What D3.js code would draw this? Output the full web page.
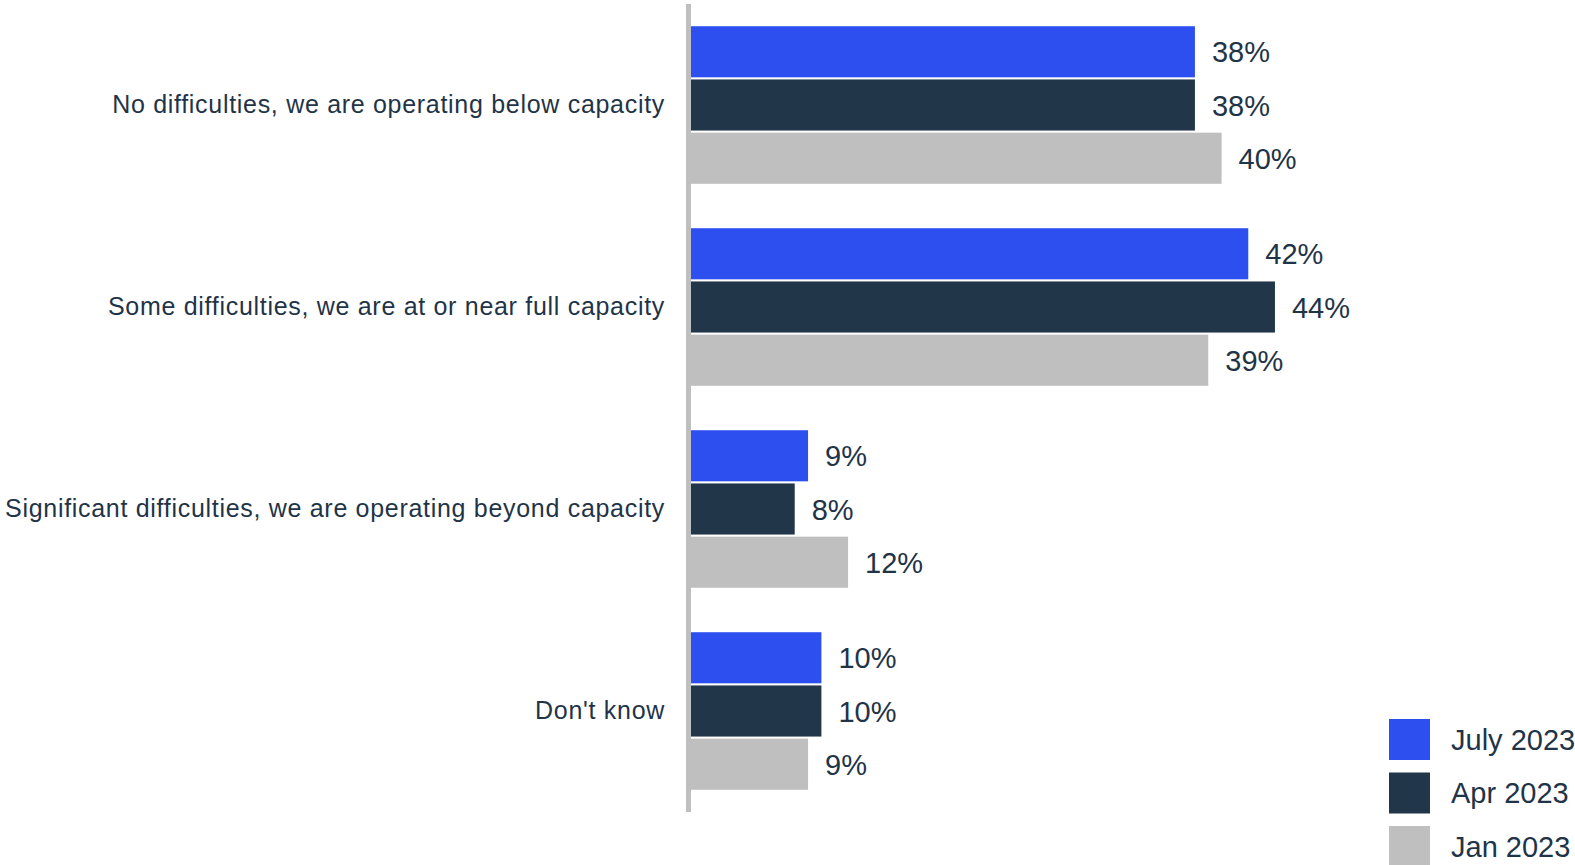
<!DOCTYPE html>
<html>
<head>
<meta charset="utf-8">
<script src="https://cdn.jsdelivr.net/npm/d3@7"></script>
<style>
  html, body { margin: 0; padding: 0; background: #fff; overflow: hidden; }
  svg { display: block; font-family: "Liberation Sans", Arial, sans-serif; }
</style>
</head>
<body>
<svg id="chart" width="1575" height="865"></svg>
<script>
// Survey responses: capacity difficulties, by wave
const categories = [
  "No difficulties, we are operating below capacity",
  "Some difficulties, we are at or near full capacity",
  "Significant difficulties, we are operating beyond capacity",
  "Don't know"
];
const seriesNames = ["July 2023", "Apr 2023", "Jan 2023"];
const july2023 = [38, 42, 9, 10];
const apr2023  = [38, 44, 8, 10];
const jan2023  = [40, 39, 12, 9];
const seriesColors = ["#2d4ff0", "#213648", "#bfbfbf"];

const seriesValues = [july2023, apr2023, jan2023];
const rows = categories.map((c, i) => ({
  category: c,
  values: seriesNames.map((s, j) => ({ series: s, value: seriesValues[j][i] }))
}));

const svg = d3.select("#chart");
const textColor = "#1f3447";

const x = d3.scaleLinear().domain([0, 50]).range([688, 1355]);
const y0 = d3.scaleBand().domain(categories).range([4, 812])
  .paddingInner(0.22).paddingOuter(0.11);
const y1 = d3.scaleBand().domain(seriesNames).range([0, y0.bandwidth()])
  .paddingInner(0.04);
const color = d3.scaleOrdinal().domain(seriesNames).range(seriesColors);
const fmt = v => d3.format(".0f")(v) + "%";

// Bars
const groups = svg.append("g").selectAll("g")
  .data(rows).join("g")
  .attr("transform", d => `translate(0,${y0(d.category)})`);

groups.selectAll("rect")
  .data(d => d.values).join("rect")
  .attr("x", x(0))
  .attr("y", d => y1(d.series))
  .attr("width", d => x(d.value) - x(0))
  .attr("height", y1.bandwidth())
  .attr("fill", d => color(d.series));

// Value labels
groups.selectAll("text")
  .data(d => d.values).join("text")
  .attr("x", d => x(d.value) + 17)
  .attr("y", d => y1(d.series) + y1.bandwidth() / 2)
  .attr("dy", "0.37em")
  .attr("font-size", 29)
  .attr("fill", textColor)
  .text(d => fmt(d.value));

// Category axis (left)
const yAxis = d3.axisLeft(y0).tickSize(0).tickPadding(21);
const axisG = svg.append("g")
  .attr("transform", `translate(${x(0) - 2},0)`)
  .call(yAxis);
axisG.select(".domain").remove();
axisG.selectAll("text")
  .attr("font-size", 25)
  .attr("letter-spacing", "0.7px")
  .attr("font-family", "Liberation Sans, Arial, sans-serif")
  .attr("fill", textColor)
  .attr("dy", "0.32em");

// Vertical baseline
svg.append("line")
  .attr("x1", x(0) + 0.5).attr("x2", x(0) + 0.5)
  .attr("y1", y0.range()[0]).attr("y2", y0.range()[1])
  .attr("stroke", "#bfbfbf")
  .attr("stroke-width", 5);

// Legend
const legend = svg.append("g").attr("transform", "translate(1389,719)");
const li = legend.selectAll("g").data(seriesNames).join("g")
  .attr("transform", (d, i) => `translate(0,${i * 53.5})`);
li.append("rect")
  .attr("width", 41).attr("height", 41)
  .attr("fill", d => color(d));
li.append("text")
  .attr("x", 62).attr("y", 20.5).attr("dy", "0.36em")
  .attr("font-size", 29)
  .attr("fill", textColor)
  .text(d => d);
</script>
</body>
</html>
